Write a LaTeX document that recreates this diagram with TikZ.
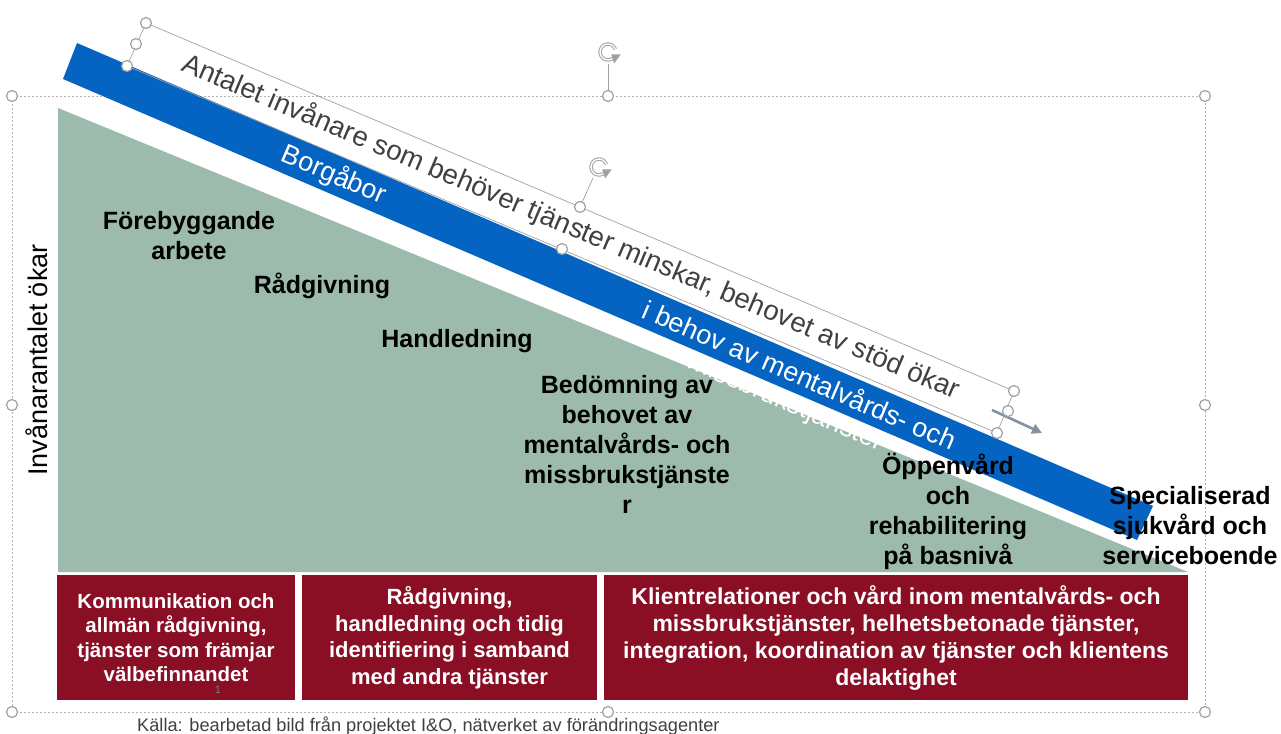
\documentclass[tikz,border=0pt]{standalone}
\usepackage{fontspec}
\setmainfont{Liberation Sans}
\usetikzlibrary{arrows.meta, positioning, calc}

\definecolor{bandblue}{HTML}{0563C1}
\definecolor{pyrgreen}{HTML}{9CBBAD}
\definecolor{boxred}{HTML}{8A0E24}
\definecolor{handlegray}{HTML}{A0A0A0}
\definecolor{textgray}{HTML}{404040}
\definecolor{arrowgray}{HTML}{8292A2}

\tikzset{
  rotico/.pic = {
    \draw[handlegray, line width=3.4pt] (40:8) arc[start angle=40, end angle=340, radius=8];
    \draw[white, line width=1.4pt] (40:8) arc[start angle=40, end angle=340, radius=8];
    \fill[handlegray] (10:13) -- (62:13) -- (36:4) -- cycle;
  }
}

\begin{document}
\begin{tikzpicture}[x=1pt, y=-1pt,
  handle/.style = {circle, draw=handlegray, fill=white, line width=1.2pt,
                   inner sep=0pt, minimum size=11pt},
  selline/.style = {draw=handlegray!80, line width=0.6pt, dash pattern=on 2pt off 2pt},
  frameline/.style = {draw=handlegray, line width=0.7pt},
  level/.style = {font=\bfseries\fontsize{25}{30}\selectfont, align=center, inner sep=0pt},
  redbox/.style = {fill=boxred, text=white, align=center, inner sep=0pt,
                   minimum height=125pt},
  bandtext/.style = {text=white, font=\fontsize{27}{31}\selectfont,
                     rotate=-23.26, inner sep=0pt}
  ]
\useasboundingbox (0,0) rectangle (1281,733);

% selection frame
\draw[selline] (12,96) rectangle (1205,712);
\draw[handlegray, line width=0.8pt] (608,64) -- (608,91);
\pic at (608,52) {rotico};

% pyramid and band
\fill[pyrgreen] (58,108) -- (1188,572) -- (58,572) -- cycle;
\node[bandtext, text=white] (band3) at (786,403) {missbrukstjänster};
\fill[bandblue] (77,43) -- (1153,506) -- (1137,540) -- (63,79) -- cycle;
\node[bandtext] (band1) at (334,175) {Borgåbor};
\node[bandtext] (band2) at (800,374) {i behov av mentalvårds- och};

% text box
\coordinate (tbNW) at (146,23);
\coordinate (tbW)  at (136,44);
\coordinate (tbSW) at (127,66);
\coordinate (tbN)  at (580,207);
\coordinate (tbS)  at (562,249);
\coordinate (tbNE) at (1014,391);
\coordinate (tbE)  at (1008,411);
\coordinate (tbSE) at (997,433);
\draw[frameline] (tbNW) -- (tbNE) -- (tbSE) -- (tbSW) -- cycle;
\draw[frameline] (tbN) -- (593,178);
\pic at (599,167) {rotico};
\node[font=\fontsize{27.7}{32}\selectfont, text=textgray, rotate=-23, inner sep=0pt]
  (antal) at (571,227) {Antalet invånare som behöver tjänster minskar, behovet av stöd ökar};
\coordinate (arrS) at (992,410);
\coordinate (arrE) at (1042,433);
\draw[arrowgray, line width=2.6pt, -{Triangle[length=10pt, width=10pt]}] (arrS) -- (arrE);
\foreach \p [count=\i] in {(tbNW), (tbW), (tbSW), (tbN), (tbS), (tbNE), (tbE), (tbSE)}
  \node[handle] (th\i) at \p {};
\foreach \p [count=\i] in {(12,96), (608,96), (1205,96), (12,405), (1205,405),
                           (12,712), (608,712), (1205,712)}
  \node[handle] (sh\i) at \p {};

% levels
\node[level] (prev)  at (189,236) {Förebyggande\\arbete};
\node[level] (radg)  at (322,286) {Rådgivning};
\node[level] (handl) at (457,341) {Handledning};
\node[level] (bedom) at (627,444) {Bedömning av\\behovet av\\mentalvårds- och\\missbrukstjänste\\r};
\node[level] (oppen) at (948,511) {Öppenvård\\och\\rehabilitering\\på basnivå};
\node[level] (spec)  at (1190,526) {Specialiserad\\sjukvård och\\serviceboende};

% service boxes
\node[redbox, minimum width=238pt, font=\bfseries\fontsize{20.5}{24.5}\selectfont]
  (box1) at (176,637.5) {Kommunikation och\\allmän rådgivning,\\tjänster som främjar\\välbefinnandet};
\node[redbox, minimum width=295pt, font=\bfseries\fontsize{22}{26.5}\selectfont]
  (box2) at (449.5,637.5) {Rådgivning,\\handledning och tidig\\identifiering i samband\\med andra tjänster};
\node[redbox, minimum width=584pt, font=\bfseries\fontsize{23}{27}\selectfont]
  (box3) at (896,637.5) {Klientrelationer och vård inom mentalvårds- och\\missbrukstjänster, helhetsbetonade tjänster,\\integration, koordination av tjänster och klientens\\delaktighet};
\node[text=gray, font=\fontsize{11}{13}\selectfont, inner sep=0pt] (pgnum) at (218,690) {1};

% axis and source
\node[rotate=90, font=\fontsize{27}{32}\selectfont, inner sep=0pt] (yaxis) at (37,360) {Invånarantalet ökar};
\node[anchor=base west, text=textgray, font=\fontsize{18.2}{21}\selectfont, inner sep=0pt]
  (kalla) at (137,731) {Källa: bearbetad bild från projektet I\&O, nätverket av förändringsagenter};
\end{tikzpicture}
\end{document}
